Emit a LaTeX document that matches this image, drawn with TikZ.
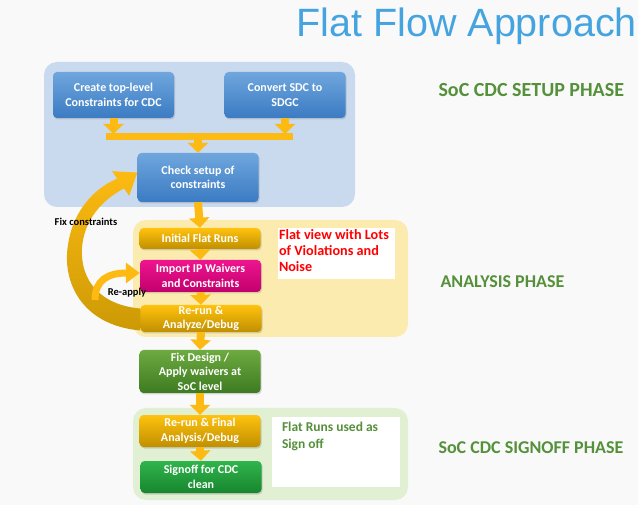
\documentclass[tikz,border=0pt]{standalone}
\usepackage{fontspec}
\setmainfont{Carlito}
\newfontfamily\titlefont{Liberation Sans}
\usepackage{xcolor}
\usepackage{tikz}
\usetikzlibrary{arrows.meta,shadows}

\definecolor{pagebg}{HTML}{F9F9F9}
\definecolor{flowgold}{HTML}{FDBA12}
\definecolor{flowdark}{HTML}{CC9A05}
\definecolor{titleblue}{HTML}{45A4E0}
\definecolor{phasegreen}{HTML}{55903A}
\definecolor{setupbg}{HTML}{C9DAEF}
\definecolor{analysisbg}{HTML}{FBEBAE}
\definecolor{signoffbg}{HTML}{E1EFD3}
\definecolor{bluetop}{HTML}{6FA6DD}
\definecolor{bluebot}{HTML}{3B7BC3}
\definecolor{goldtop}{HTML}{FFC20E}
\definecolor{goldbot}{HTML}{C08F00}
\definecolor{pinktop}{HTML}{EE1490}
\definecolor{pinkbot}{HTML}{C2006C}
\definecolor{greentop}{HTML}{6DAA40}
\definecolor{greenbot}{HTML}{3D7B21}
\definecolor{oktop}{HTML}{30B44C}
\definecolor{okbot}{HTML}{17862E}

\begin{document}
\begin{tikzpicture}[x=1pt,y=-1pt,
  box/.style={rounded corners=4pt, minimum width=121pt, align=center, inner sep=1pt,
    text=white, font=\bfseries\fontsize{12}{14.5}\selectfont,
    drop shadow={shadow xshift=1pt,shadow yshift=-1.5pt,opacity=.3}},
  bluebox/.style={box, top color=bluetop, bottom color=bluebot},
  goldbox/.style={box, top color=goldtop, bottom color=goldbot},
  pinkbox/.style={box, top color=pinktop, bottom color=pinkbot},
  greenbox/.style={box, top color=greentop, bottom color=greenbot},
  okbox/.style={box, top color=oktop, bottom color=okbot},
  region/.style={rounded corners=13pt},
  note/.style={fill=white, inner sep=0pt},
  phase/.style={anchor=west, text=phasegreen, font=\bfseries\fontsize{18}{20}\selectfont},
  flow/.style={draw=flowgold, line width=8pt, -{Triangle[width=20pt,length=10pt]}},
  tag/.style={font=\bfseries\fontsize{10.5}{12}\selectfont}
]

\useasboundingbox (0,0) rectangle (638,505);
\fill[pagebg] (0,0) rectangle (638,505);

\node[anchor=base east, inner sep=0pt, text=titleblue, font=\titlefont\fontsize{39.5}{45}\selectfont] (title) at (637,37) {Flat Flow Approach};

\fill[region, setupbg] (44,62) rectangle (355,207);
\fill[region, analysisbg] (133,220) rectangle (408,337);
\fill[region, signoffbg] (133,408) rectangle (408,500);

\node[bluebox, minimum height=46pt] (create) at (113.5,95) {Create top-level\\Constraints for CDC};
\node[bluebox, minimum height=46pt] (convert) at (285,95) {Convert SDC to\\SDGC};
\node[bluebox, minimum height=49pt] (check) at (198,177.5) {Check setup of\\constraints};

\node[goldbox, minimum height=21pt] (init) at (200,238.5) {Initial Flat Runs};
\node[pinkbox, minimum height=32pt] (import) at (200.5,276) {Import IP Waivers\\and Constraints};
\node[goldbox, minimum height=27pt] (rerun) at (201,318.5) {Re-run \&\\Analyze/Debug};
\node[greenbox, minimum height=43pt] (fix) at (200,371.5) {Fix Design /\\Apply waivers at\\SoC level};
\node[goldbox, minimum height=32pt] (final) at (200,431) {Re-run \& Final\\Analysis/Debug};
\node[okbox, minimum height=32pt] (signoff) at (201,477) {Signoff for CDC\\clean};

\node[note, text=red, font=\bfseries\fontsize{14.2}{16}\selectfont] (flatview) at (336.5,253.5)
  {\parbox[c][51pt][t]{117pt}{\raggedright\vspace*{2pt}\hspace*{1pt}Flat view with Lots\\\hspace*{1pt}of Violations and\\\hspace*{1pt}Noise}};
\node[note, text=phasegreen, font=\bfseries\fontsize{13.5}{17}\selectfont] (flatruns) at (336,452)
  {\parbox[c][70pt][t]{128pt}{\raggedright\vspace*{5pt}\hspace*{10pt}Flat Runs used as\\\hspace*{10pt}Sign off}};

\node[phase, font=\bfseries\fontsize{20}{22}\selectfont] (setup) at (435,90) {SoC CDC SETUP PHASE};
\node[phase] (analysis) at (437,282) {ANALYSIS PHASE};
\node[phase] (signphase) at (435,448) {SoC CDC SIGNOFF PHASE};

\coordinate (barL) at (106,137);
\coordinate (barR) at (293,137);
\draw[flowgold, line width=7pt] (barL) -- (barR);
\draw[flow] (create.south) -- ([yshift=3pt]create.south |- barL);
\draw[flow] (convert.south) -- ([yshift=3pt]convert.south |- barL);
\draw[flow] (check.north |- barL) -- (check.north);

\draw[flow] (check.south) -- (init.north);
\draw[flow] (init.south) -- (import.north);
\draw[flow] (import.south) -- (rerun.north);
\draw[flow] (rerun.south) -- (fix.north);
\draw[flow] (fix.south) -- (final.north);
\draw[flow] (final.south) -- (signoff.north);

% tapered loop back to the setup check
\shade[top color=flowgold, bottom color=flowdark]
  ([yshift=-12pt]rerun.west) .. controls (80,325) and (62,280) .. (68,245)
  .. controls (73,210) and (95,188) .. (117.2,178.6) -- (112,171.2)
  -- ([yshift=5pt]check.west) -- (129.2,195.8) -- (124,188.4)
  .. controls (102,200) and (84,220) .. (82,248)
  .. controls (80,280) and (100,305) .. ([yshift=10pt]rerun.west) -- cycle;

\coordinate (reapply) at (95,300);
\draw[flowgold, line width=7pt, -{Triangle[width=20pt,length=14pt]}]
  (reapply) .. controls (95,280) and (108,273) .. ([yshift=3pt]import.west);

\node[tag] (fixlabel) at (86,222) {Fix constraints};
\node[tag] (reapplylabel) at (127,293) {Re-apply};

\end{tikzpicture}
\end{document}
